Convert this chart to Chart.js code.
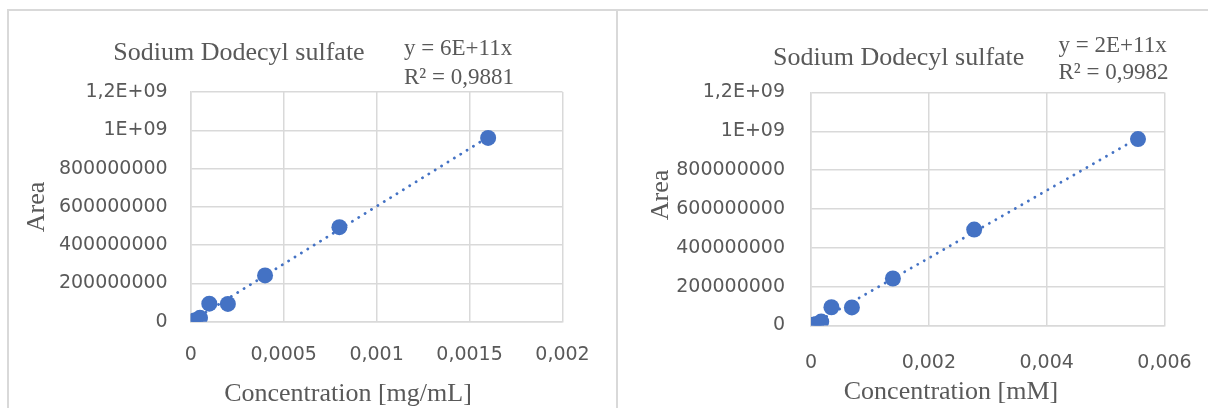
<!DOCTYPE html>
<html>
<head>
<meta charset="utf-8">
<script src="https://cdn.jsdelivr.net/npm/chart.js@4.4.1/dist/chart.umd.min.js"></script>
<style>
  html, body { margin: 0; padding: 0; background: #ffffff; }
  body { width: 1208px; height: 408px; position: relative; overflow: hidden; }
  .frame { position: absolute; border-left: 2px solid #d9d9d9; border-top: 2px solid #d9d9d9; }
  canvas { position: absolute; top: 0; }
</style>
</head>
<body>
<div class="frame" style="left:7px; top:9px; width:1201px; height:399px;"></div>
<div class="frame" style="left:616px; top:9px; width:592px; height:399px; border-top:none;"></div>
<canvas id="c1" width="604" height="408" style="left:0px"></canvas>
<canvas id="c2" width="604" height="408" style="left:604px"></canvas>
<script>
// ---- data ----
const concMgPerMl = [0.0000125, 0.000025, 0.00005, 0.0001, 0.0002, 0.0004, 0.0008, 0.0016];
const concMM      = [0.0000433, 0.0000867, 0.000173, 0.000347, 0.000694, 0.00139, 0.00277, 0.00555];
const areaValues  = [4e6, 8e6, 20e6, 94e6, 93e6, 242e6, 494e6, 960e6];
const yTickLabels = ['0', '200000000', '400000000', '600000000', '800000000', '1E+09', '1,2E+09'];
const xTickLabelsLeft  = ['0', '0,0005', '0,001', '0,0015', '0,002'];
const xTickLabelsRight = ['0', '0,002', '0,004', '0,006'];
const chartTitle = 'Sodium Dodecyl sulfate';
const yTitle = 'Area';
const xTitleLeft = 'Concentration [mg/mL]';
const xTitleRight = 'Concentration [mM]';
const eqLeft = ['y = 6E+11x', 'R\u00B2 = 0,9881'];
const eqRight = ['y = 2E+11x', 'R\u00B2 = 0,9982'];

const BLUE = '#4472C4';
const GRID = '#d9d9d9';
const TEXT = '#595959';
const SERIF = '"Liberation Serif", "Times New Roman", serif';

// least-squares slope through origin (Excel trendline with intercept = 0)
function slopeThroughOrigin(xs, ys) {
  let sxy = 0, sxx = 0;
  xs.forEach((x, i) => { sxy += x * ys[i]; sxx += x * x; });
  return sxy / sxx;
}

const textPlugin = {
  id: 'texts',
  afterDraw(chart, args, o) {
    const ctx = chart.ctx;
    ctx.save();
    ctx.fillStyle = TEXT;
    ctx.textBaseline = 'alphabetic';
    ctx.font = '26px ' + SERIF;
    ctx.textAlign = 'center';
    ctx.fillText(chartTitle, o.titleX, o.titleY);
    ctx.font = '23px ' + SERIF;
    ctx.textAlign = 'left';
    ctx.fillText(o.eq[0], o.eqX, o.eqY1);
    ctx.fillText(o.eq[1], o.eqX, o.eqY2);
    ctx.font = '26px ' + SERIF;
    ctx.textAlign = 'center';
    ctx.fillText(o.xTitle, o.xTitleX, o.xTitleY);
    ctx.translate(o.yTitleX, o.yTitleY);
    ctx.rotate(-Math.PI / 2);
    ctx.textBaseline = 'middle';
    ctx.fillText(yTitle, 0, 0);
    ctx.restore();
  }
};

function makeChart(id, xs, xMax, xStep, xLabels, g, t) {
  const pts = xs.map((x, i) => ({ x: x, y: areaValues[i] }));
  const k = slopeThroughOrigin(xs, areaValues);
  const xmin = Math.min(...xs), xmax = Math.max(...xs);
  const trend = [{ x: xmin, y: k * xmin }, { x: xmax, y: k * xmax }];
  return new Chart(document.getElementById(id), {
    type: 'scatter',
    data: {
      datasets: [
        { data: pts, backgroundColor: BLUE, borderColor: BLUE, borderWidth: 0, pointRadius: 8, pointHoverRadius: 8, showLine: false },
        { data: trend, type: 'line', borderColor: BLUE, borderWidth: 2.8, borderDash: [0.1, 7.4], borderCapStyle: 'round', pointRadius: 0, fill: false }
      ]
    },
    options: {
      responsive: false,
      animation: false,
      devicePixelRatio: 1,
      layout: { padding: { left: 0, top: g.top, right: 604 - g.right, bottom: 0 } },
      plugins: { legend: { display: false }, tooltip: { enabled: false }, texts: t },
      scales: {
        x: {
          type: 'linear', min: 0, max: xMax,
          ticks: { stepSize: xStep, padding: g.xPad, color: TEXT, font: { family: '"DejaVu Sans"', size: 19 },
                   callback: (v, i) => xLabels[i] },
          grid: { color: GRID, lineWidth: 1.5, drawTicks: false },
          border: { color: GRID, width: 1.5 },
          afterFit: s => { s.height = 408 - g.bottom; s.paddingLeft = 0; s.paddingRight = 0; }
        },
        y: {
          type: 'linear', min: 0, max: 1.2e9,
          ticks: { stepSize: 2e8, padding: g.yPad, color: TEXT, font: { family: '"DejaVu Sans"', size: 19 },
                   callback: (v, i) => yTickLabels[i] },
          grid: { color: GRID, lineWidth: 1.5, drawTicks: false },
          border: { color: GRID, width: 1.5 },
          afterFit: s => { s.width = g.left; s.paddingTop = 0; s.paddingBottom = 0; }
        }
      }
    },
    plugins: [textPlugin]
  });
}

makeChart('c1', concMgPerMl, 0.002, 0.0005, xTickLabelsLeft,
  { left: 190.7, right: 562.5, top: 92, bottom: 321.7, yPad: 23, xPad: 22 },
  { titleX: 239, titleY: 60, eq: eqLeft, eqX: 404, eqY1: 55, eqY2: 84,
    xTitle: xTitleLeft, xTitleX: 348, xTitleY: 401, yTitleX: 37.5, yTitleY: 207 });

makeChart('c2', concMM, 0.006, 0.002, xTickLabelsRight,
  { left: 207, right: 560.5, top: 92.5, bottom: 325.5, yPad: 26, xPad: 26 },
  { titleX: 294.7, titleY: 65, eq: eqRight, eqX: 454.5, eqY1: 52, eqY2: 78.5,
    xTitle: xTitleRight, xTitleX: 347, xTitleY: 399, yTitleX: 57.5, yTitleY: 195 });
</script>
</body>
</html>
